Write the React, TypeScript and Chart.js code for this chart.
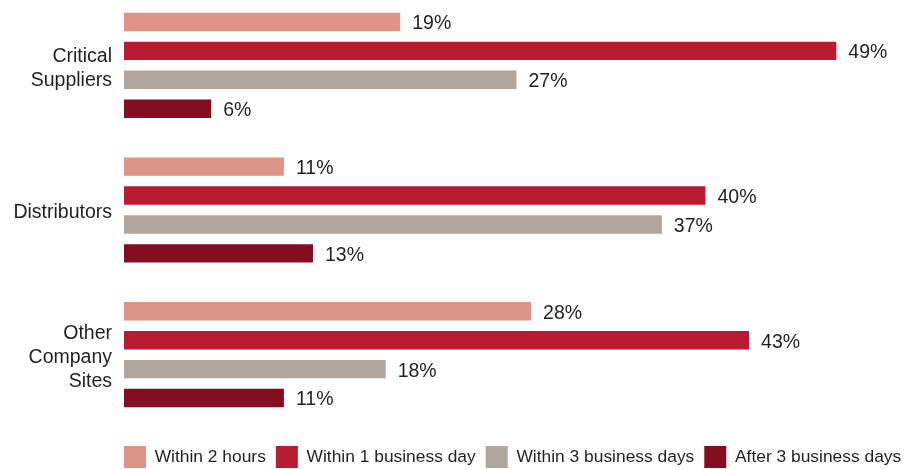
import React, { useEffect, useRef } from "react";
import { Chart, registerables } from "chart.js";

Chart.register(...registerables);

const categories: (string | string[])[] = [
  ["Critical", "Suppliers"],
  "Distributors",
  ["Other", "Company", "Sites"],
];
const seriesNames = [
  "Within 2 hours",
  "Within 1 business day",
  "Within 3 business days",
  "After 3 business days",
];
const within2Hours = [19, 11, 28];
const within1Day = [49, 40, 43];
const within3Days = [27, 37, 18];
const after3Days = [6, 13, 11];
const seriesColors = ["#DD9386", "#B91C32", "#B0A69E", "#840E21"];

const FONT = '"Liberation Sans", Arial, Helvetica, sans-serif';
const TEXT_COLOR = "#231F20";

const valueLabels = {
  id: "valueLabels",
  afterDatasetsDraw(chart: any) {
    const ctx = chart.ctx;
    ctx.save();
    ctx.font = `19.5px ${FONT}`;
    ctx.fillStyle = TEXT_COLOR;
    ctx.textAlign = "left";
    ctx.textBaseline = "middle";
    chart.data.datasets.forEach((ds: any, i: number) => {
      const meta = chart.getDatasetMeta(i);
      meta.data.forEach((bar: any, j: number) => {
        ctx.fillText(`${ds.data[j]}%`, bar.x + 12, bar.y + 2);
      });
    });
    ctx.restore();
  },
};

const legendPlacement = {
  id: "legendPlacement",
  afterLayout(chart: any) {
    const lg = chart.legend;
    if (!lg) return;
    const pad = lg.options.labels.padding;
    const w = lg.width;
    const h = lg.height;
    lg.left = chart.chartArea.left - pad;
    lg.right = lg.left + w + 200;
    lg.top = chart.chartArea.bottom + 9;
    lg.bottom = lg.top + h;
  },
};

export default function App() {
  const ref = useRef<HTMLCanvasElement | null>(null);

  useEffect(() => {
    if (!ref.current) return;
    const seriesData = [within2Hours, within1Day, within3Days, after3Days];
    const chart = new Chart(ref.current, {
      type: "bar",
      data: {
        labels: categories,
        datasets: seriesNames.map((name, i) => ({
          label: name,
          data: seriesData[i],
          backgroundColor: seriesColors[i],
          borderColor: seriesColors[i],
          borderWidth: 0,
          categoryPercentage: 0.8,
          barPercentage: 0.637,
        })),
      },
      options: {
        indexAxis: "y",
        responsive: false,
        animation: false,
        layout: { padding: { top: 0, right: 8, bottom: 0, left: 0 } },
        scales: {
          x: {
            display: false,
            min: 0,
            max: 54,
          },
          y: {
            grid: { display: false, drawTicks: false },
            border: { display: false },
            ticks: {
              padding: 12,
              labelOffset: 3,
              color: TEXT_COLOR,
              font: { family: FONT, size: 19.5, lineHeight: 1.23 },
            },
            afterFit(scale: any) {
              scale.width = 124;
              scale.paddingTop = 0;
              scale.paddingBottom = 0;
            },
          },
        },
        plugins: {
          tooltip: { enabled: false },
          legend: {
            position: "bottom",
            align: "start",
            labels: {
              boxWidth: 22,
              boxHeight: 22,
              padding: 10,
              color: TEXT_COLOR,
              font: { family: FONT, size: 17.4 },
            },
          },
        },
      },
      plugins: [valueLabels, legendPlacement],
    });
    return () => chart.destroy();
  }, []);

  return (
    <div style={{ position: "absolute", left: 0, top: -7, width: 917, height: 476 }}>
      <canvas ref={ref} width={917} height={476} style={{ display: "block" }} />
    </div>
  );
}
